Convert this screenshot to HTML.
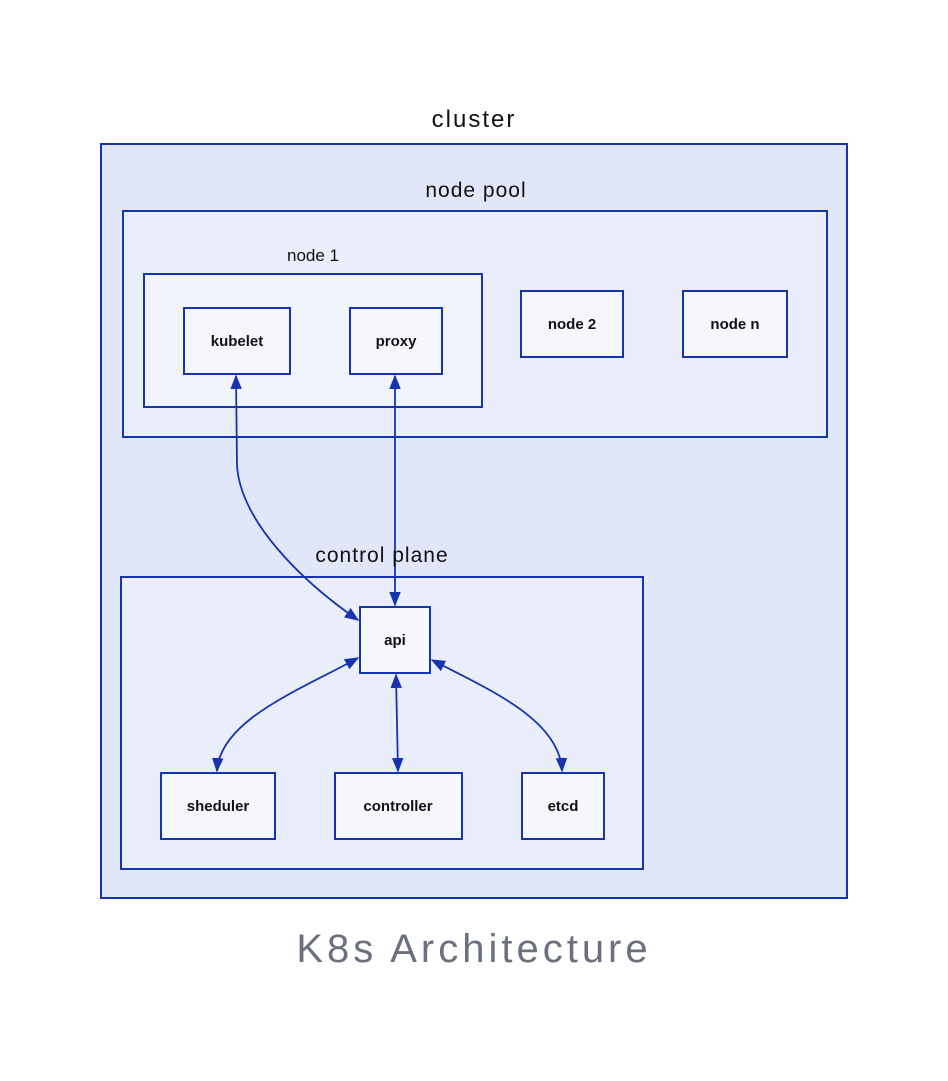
<!DOCTYPE html>
<html><head><style>
html,body{margin:0;padding:0;background:#fff;width:948px;height:1081px;overflow:hidden}
text{font-family:"Liberation Sans",sans-serif;fill:#111}
</style></head><body>
<svg width="948" height="1081" viewBox="0 0 948 1081" xmlns="http://www.w3.org/2000/svg">
<defs>
<marker id="a" viewBox="0 0 10 10" refX="9" refY="5" markerWidth="8" markerHeight="8" orient="auto-start-reverse"><path d="M0,1 L10,5 L0,9 z" fill="#1634b0"/></marker>
</defs>
<g stroke="#1634b0" stroke-width="2">
<rect x="101" y="144" width="746" height="754" fill="#e1e7f9"/>
<rect x="123" y="211" width="704" height="226" fill="#eaeefa"/>
<rect x="144" y="274" width="338" height="133" fill="#f2f4fc"/>
<rect x="121" y="577" width="522" height="292" fill="#eaeefa"/>
<g fill="#f6f7fd">
<rect x="184" y="308" width="106" height="66"/>
<rect x="350" y="308" width="92" height="66"/>
<rect x="521" y="291" width="102" height="66"/>
<rect x="683" y="291" width="104" height="66"/>
<rect x="360" y="607" width="70" height="66"/>
<rect x="161" y="773" width="114" height="66"/>
<rect x="335" y="773" width="127" height="66"/>
<rect x="522" y="773" width="82" height="66"/>
</g>
</g>
<g stroke="#1634b0" stroke-width="1.8" fill="none" marker-start="url(#a)" marker-end="url(#a)">
<path d="M236,376 L237,465 C240,520 300,580 358,620"/>
<path d="M395,376 L395,605"/>
<path d="M358,658 C300,690 220,720 217,771"/>
<path d="M396,675 L398,771"/>
<path d="M432,660 C490,690 560,720 562,771"/>
</g>
<g text-anchor="middle">
<text x="474" y="127" font-size="24" letter-spacing="2">cluster</text>
<text x="476" y="197" font-size="21" letter-spacing="1">node pool</text>
<text x="313" y="261" font-size="17">node 1</text>
<text x="382" y="562" font-size="21" letter-spacing="1">control plane</text>
<g font-size="15" font-weight="bold">
<text x="237" y="346">kubelet</text>
<text x="396" y="346">proxy</text>
<text x="572" y="329">node 2</text>
<text x="735" y="329">node n</text>
<text x="395" y="645">api</text>
<text x="218" y="811">sheduler</text>
<text x="398" y="811">controller</text>
<text x="563" y="811">etcd</text>
</g>
<text x="474" y="962" font-size="40" letter-spacing="4" style="fill:#6b7080">K8s Architecture</text>
</g>
</svg>
</body></html>
